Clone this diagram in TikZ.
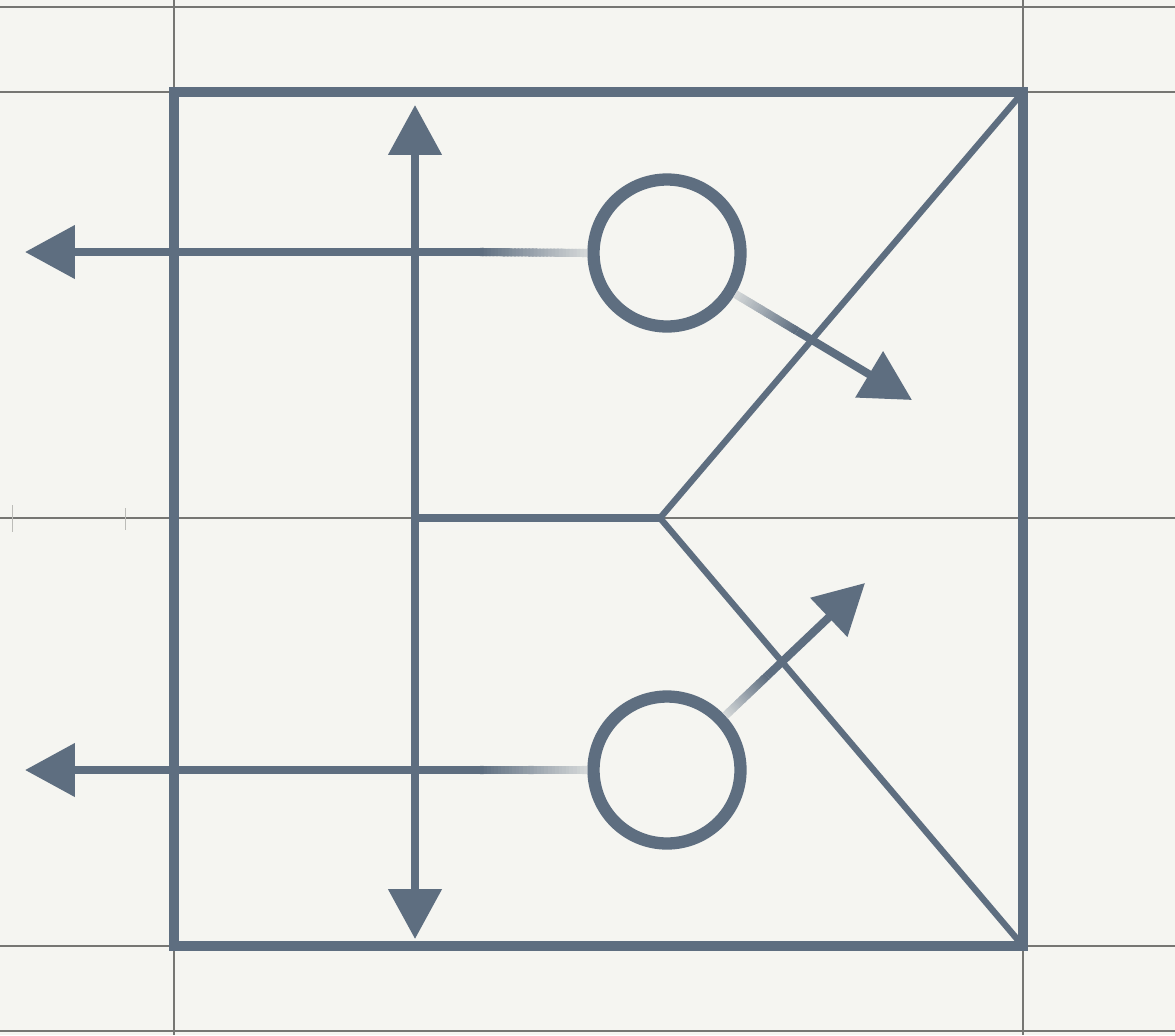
\documentclass[tikz,border=0pt]{standalone}
\usetikzlibrary{arrows.meta,calc}
\definecolor{ink}{RGB}{94,110,128}
\definecolor{paper}{RGB}{245,245,241}
\definecolor{gridc}{RGB}{118,118,115}
\begin{document}
\begin{tikzpicture}[x=0.02cm,y=-0.02cm,
  gridline/.style={draw=gridc,line width=1pt},
  frame/.style={draw=ink,line width=5.8pt,line join=miter},
  wedge/.style={draw=ink,line width=3.6pt},
  arrline/.style={draw=ink,line width=4.6pt},
  arr/.style={arrline,-{Triangle[length=1cm,width=1.04cm]}},
  darr/.style={arrline,{Triangle[length=1cm,width=1.04cm]}-{Triangle[length=1cm,width=1.04cm]}},
  ring/.style={circle,draw=ink,line width=7pt,minimum size=2.94cm,inner sep=0pt}]
\useasboundingbox (0,0) rectangle (1175,1035);
\fill[paper] (0,0) rectangle (1175,1035);
% grid
\draw[gridline] (0,7) -- (1175,7);
\draw[gridline] (0,92) -- (1175,92);
\draw[gridline] (0,518) -- (1175,518);
\draw[gridline] (0,946) -- (1175,946);
\draw[gridline] (0,1031) -- (1175,1031);
\draw[gridline] (174,0) -- (174,1035);
\draw[gridline] (1023,0) -- (1023,1035);
\draw[draw=gridc!45!paper,line width=0.5pt] (12,505) -- (12,532) (125,508) -- (125,530);
% coordinates
\coordinate (TL) at (174,92);
\coordinate (BR) at (1023,946);
\coordinate (TR) at (1023,92);
\coordinate (J) at (660,518);
\coordinate (VT) at (415,105);
\coordinate (VB) at (415,939);
\coordinate (VM) at (415,518);
\coordinate (L1) at (25,252);
\coordinate (L2) at (25,770);
\coordinate (T1) at (912,400);
\coordinate (T2) at (865,583);
% frame and wedge
\draw[frame] (TL) rectangle (BR);
\draw[wedge] (TR) -- (J) -- (BR);
\draw[arrline] (VM) -- (J);
\draw[darr] (VB) -- (VT);
% circles
\node[ring] (c1) at (667,253) {};
\node[ring] (c2) at (667,770) {};
% fade points
\coordinate (F1) at (480,252);
\coordinate (F2) at (480,770);
\coordinate (S3) at (c1.-31);
\coordinate (S4) at (c2.43);
\coordinate (F3) at ($(S3)!0.35!(T1)$);
\coordinate (F4) at ($(S4)!0.30!(T2)$);
% arrows
\draw[arr] (F1) -- (L1);
\draw[arr] (F2) -- (L2);
\draw[arr] (F3) -- (T1);
\draw[arr] (F4) -- (T2);
\foreach \s/\f in {c1.west/F1,c2.west/F2,S3/F3,S4/F4}{
  \foreach \i in {0,...,29}{
    \pgfmathtruncatemacro\pct{22+\i*78/29}
    \draw[line width=4.6pt,draw=ink!\pct!paper] ($(\s)!{\i/30}!(\f)$) -- ($(\s)!{min(1,(\i+1.5)/30)}!(\f)$);
  }
}
\end{tikzpicture}
\end{document}
